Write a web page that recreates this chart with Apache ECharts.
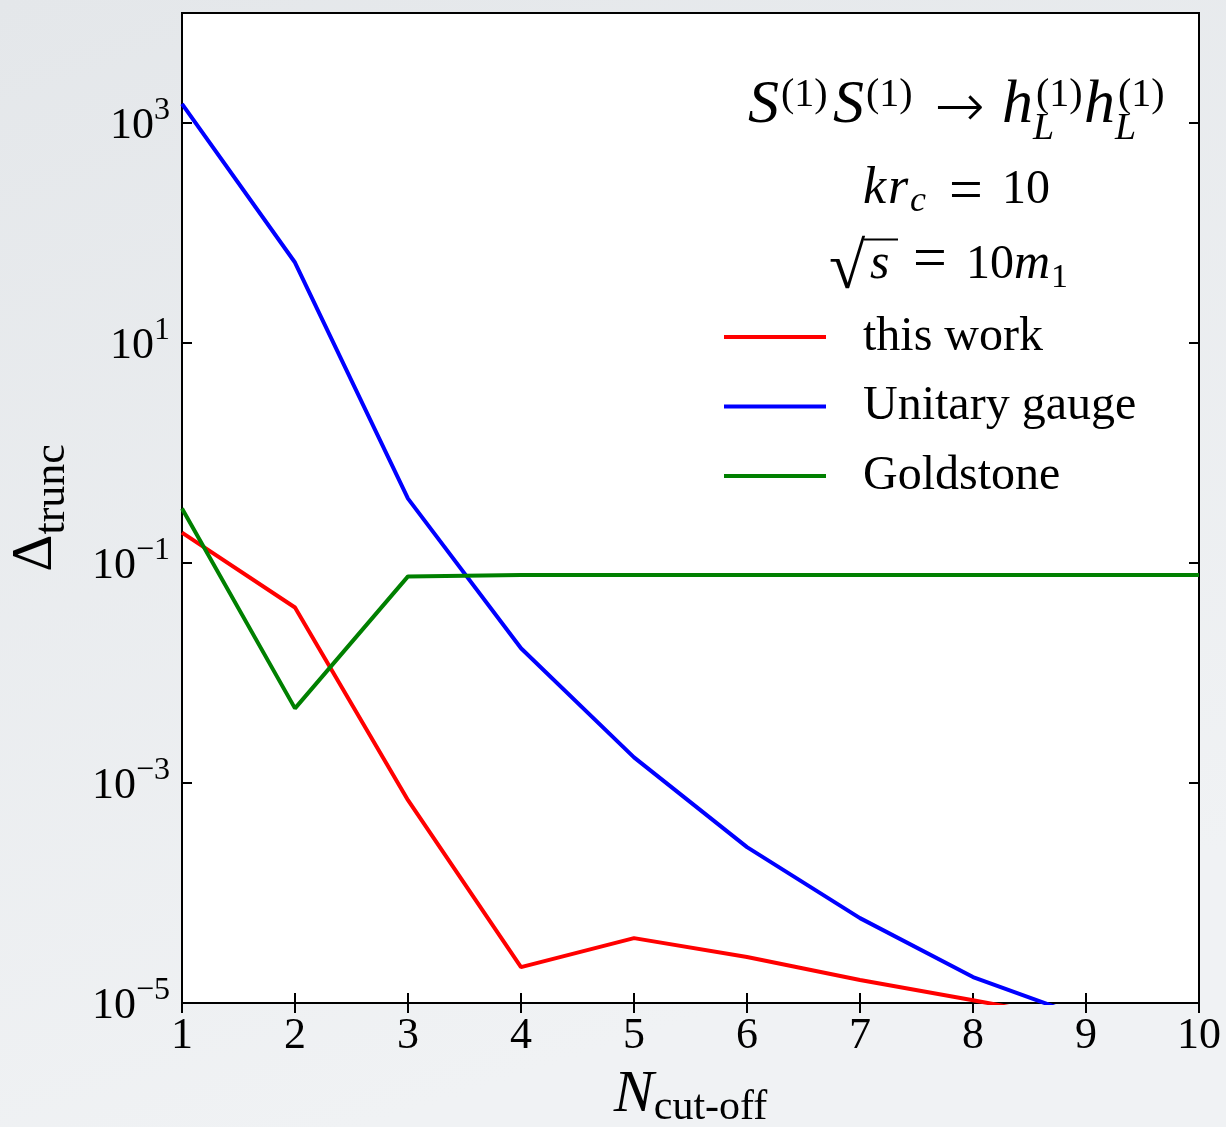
<!DOCTYPE html>
<html>
<head>
<meta charset="utf-8">
<script src="https://cdn.jsdelivr.net/npm/echarts@6/dist/echarts.min.js"></script>
<style>
html, body { margin: 0; padding: 0; }
#chart { width: 1226px; height: 1127px; }
</style>
</head>
<body>
<div id="chart"></div>
<script>
// ---------------- data ----------------
const xValues = [1, 2, 3, 4, 5, 6, 7, 8, 9, 10];
const xTickLabels = ['1', '2', '3', '4', '5', '6', '7', '8', '9', '10'];
const seriesNames = ['this work', 'Unitary gauge', 'Goldstone'];
const thisWork = [0.189, 0.0394, 6.97e-4, 2.12e-5, 3.89e-5, 2.62e-5, 1.62e-5, 1.06e-5, 6.8e-6, 4.5e-6];
const unitaryGauge = [1490, 53.9, 0.385, 0.0168, 0.00171, 2.61e-4, 5.91e-5, 1.72e-5, 7.3e-6, 3.4e-6];
const goldstone = [0.313, 0.00477, 0.0755, 0.0778, 0.0778, 0.0778, 0.0778, 0.0778, 0.0778, 0.0778];
const yTickExponents = [-5, -3, -1, 1, 3];
const yMinExp = -5;
const yMaxExp = 4;

// ---------------- styles ----------------
const FONT = '"Liberation Serif", "Times New Roman", serif';
const GRID = { left: 182, top: 13, width: 1017, height: 990 };

function pts(vals) { return xValues.map((x, i) => [x, vals[i]]); }

function txt(t, x, baseline, fs, italic, align, family) {
  return {
    type: 'text', x: x, y: baseline - 0.34 * fs, silent: true,
    style: {
      text: t, fontSize: fs, fontFamily: family || FONT,
      fontStyle: italic ? 'italic' : 'normal',
      fill: '#000', align: align || 'left', verticalAlign: 'middle'
    }
  };
}
function mid(t, cx, cy, fs, family, weight) {
  return {
    type: 'text', x: cx, y: cy, silent: true,
    style: { text: t, fontSize: fs, fontFamily: family || FONT, fontWeight: weight || 'normal',
      fill: '#000', align: 'center', verticalAlign: 'middle' }
  };
}

const annotation = [
  // S^(1) S^(1) -> h_L^(1) h_L^(1)
  txt('S', 748, 127, 62, true),
  txt('(1)', 781, 109, 40),
  txt('S', 833, 127, 62, true),
  txt('(1)', 866, 109, 40),
  mid('\u2192', 960, 110, 60, '"DejaVu Sans", sans-serif', 200),
  txt('h', 1002, 127, 62, true),
  txt('L', 1033, 142, 38, true),
  txt('(1)', 1036, 109, 40),
  txt('h', 1084, 127, 62, true),
  txt('L', 1115, 142, 38, true),
  txt('(1)', 1118, 109, 40),
  // k r_c = 10
  txt('k', 863, 207, 52, true),
  txt('r', 888, 207, 52, true),
  txt('c', 910, 214, 36, true),
  mid('=', 966, 193, 60),
  txt('10', 1002, 207, 48),
  // sqrt(s) = 10 m_1
  txt('\u221A', 829, 293, 66),
  txt('s', 870, 282, 50, true),
  mid('=', 930, 261, 60),
  txt('10', 966, 282, 48),
  txt('m', 1014, 282, 50, true),
  txt('1', 1051, 290, 34)
];

const tickStyle = { show: true, inside: true, length: 10, lineStyle: { color: '#000', width: 2 } };

const chart = echarts.init(document.getElementById('chart'), null, { renderer: 'canvas' });

const option = {
  animation: false,
  backgroundColor: new echarts.graphic.LinearGradient(0, 0, 0.3, 1, [
    { offset: 0, color: '#e4e7ea' },
    { offset: 1, color: '#f0f2f4' }
  ]),
  grid: Object.assign({
    show: true, backgroundColor: '#ffffff', borderColor: '#000', borderWidth: 2,
    containLabel: false, outerBoundsMode: 'none'
  }, GRID),
  legend: {
    data: seriesNames,
    orient: 'vertical',
    left: 724, top: 306, padding: 0,
    icon: 'rect',
    itemWidth: 102, itemHeight: 4, itemGap: 7.5,
    textStyle: { fontFamily: FONT, fontSize: 48, color: '#000', lineHeight: 46, padding: [16, 0, 0, 32] }
  },
  xAxis: [
    {
      type: 'value', position: 'bottom', min: 1, max: 10, interval: 1,
      axisLine: { show: false }, splitLine: { show: false },
      axisTick: tickStyle,
      axisLabel: {
        margin: 11, fontFamily: FONT, fontSize: 44, color: '#000',
        formatter: v => { const i = xValues.indexOf(v); return i >= 0 ? xTickLabels[i] : ''; }
      },
      name: '{n|N}{s|cut-off}', nameLocation: 'middle', nameGap: 58,
      nameTextStyle: {
        color: '#000',
        rich: {
          n: { fontFamily: FONT, fontSize: 60, fontStyle: 'italic', color: '#000' },
          s: { fontFamily: FONT, fontSize: 42, color: '#000', padding: [26, 0, 0, 0] }
        }
      }
    },
    {
      type: 'value', position: 'top', min: 1, max: 10, interval: 1,
      axisLine: { show: false }, splitLine: { show: false },
      axisTick: tickStyle, axisLabel: { show: false }
    }
  ],
  yAxis: [
    {
      // tick / label axis (exponent offset from yMinExp)
      type: 'value', position: 'left', min: 0, max: yMaxExp - yMinExp, interval: 2,
      axisLine: { show: false }, splitLine: { show: false },
      axisTick: tickStyle,
      axisLabel: {
        margin: 12, color: '#000',
        formatter: v => {
          const e = v + yMinExp;
          if (yTickExponents.indexOf(e) < 0) return '';
          return '{b|10}{s|' + (e < 0 ? '\u2212' + (-e) : e) + '}';
        },
        rich: {
          b: { fontFamily: FONT, fontSize: 44, color: '#000', padding: [7, 0, 0, 0] },
          s: { fontFamily: FONT, fontSize: 32, color: '#000', padding: [0, 0, 24, 0] }
        }
      },
      name: '{d|\u0394}{s|trunc}', nameLocation: 'middle', nameGap: 108,
      nameTextStyle: {
        color: '#000',
        rich: {
          d: { fontFamily: FONT, fontSize: 58, color: '#000' },
          s: { fontFamily: FONT, fontSize: 44, color: '#000', padding: [33, 0, 0, 0] }
        }
      }
    },
    {
      type: 'value', position: 'right', min: 0, max: yMaxExp - yMinExp, interval: 2,
      axisLine: { show: false }, splitLine: { show: false },
      axisTick: tickStyle, axisLabel: { show: false }
    },
    {
      // data axis
      type: 'log', logBase: 10, min: Math.pow(10, yMinExp), max: Math.pow(10, yMaxExp),
      show: false
    }
  ],
  series: [
    { name: seriesNames[0], type: 'line', xAxisIndex: 0, yAxisIndex: 2, data: pts(thisWork),
      symbol: 'none', clip: true, color: '#ff0000', lineStyle: { color: '#ff0000', width: 4 } },
    { name: seriesNames[1], type: 'line', xAxisIndex: 0, yAxisIndex: 2, data: pts(unitaryGauge),
      symbol: 'none', clip: true, color: '#0000ff', lineStyle: { color: '#0000ff', width: 4 } },
    { name: seriesNames[2], type: 'line', xAxisIndex: 0, yAxisIndex: 2, data: pts(goldstone),
      symbol: 'none', clip: true, color: '#008000', lineStyle: { color: '#008000', width: 4 } }
  ],
  graphic: annotation.concat([
    { type: 'line', silent: true, shape: { x1: 864, y1: 239.5, x2: 898, y2: 239.5 },
      style: { stroke: '#000', lineWidth: 2 } }
  ])
};

chart.setOption(option);
</script>
</body>
</html>
